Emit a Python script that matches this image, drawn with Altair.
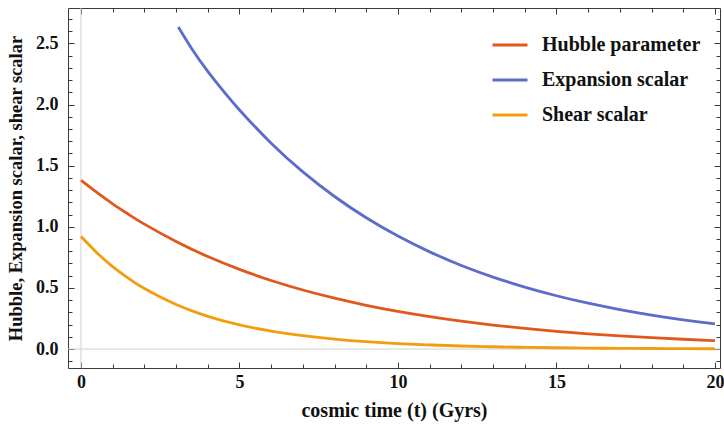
import altair as alt
import pandas as pd

# ---- data ----
t_hubble = [0, 0.5, 1, 1.5, 2, 3, 4, 5, 6, 7, 8, 9, 10, 11, 12, 13, 14, 15, 16, 17, 18, 19, 20]
hubble = [1.380, 1.281, 1.188, 1.102, 1.022, 0.880, 0.757, 0.652, 0.561, 0.483, 0.416, 0.358,
          0.308, 0.265, 0.228, 0.196, 0.169, 0.145, 0.125, 0.108, 0.093, 0.080, 0.069]

t_expansion = [3.07, 3.5, 4, 4.5, 5, 6, 7, 8, 9, 10, 11, 12, 13, 14, 15, 16, 17, 18, 19, 20]
expansion = [2.635, 2.455, 2.271, 2.107, 1.956, 1.684, 1.450, 1.248, 1.074, 0.924, 0.795,
             0.684, 0.589, 0.507, 0.436, 0.375, 0.323, 0.278, 0.239, 0.206]

t_shear = [0, 0.5, 1, 1.5, 2, 3, 4, 5, 6, 7, 8, 9, 10, 11, 12, 13, 14, 15, 16, 17, 18, 19, 20]
shear = [0.920, 0.788, 0.675, 0.578, 0.495, 0.364, 0.268, 0.198, 0.147, 0.109, 0.081, 0.060,
         0.045, 0.034, 0.025, 0.019, 0.014, 0.0105, 0.0079, 0.0059, 0.0044, 0.0033, 0.0025]

series_names = ["Hubble parameter", "Expansion scalar", "Shear scalar"]
series_colors = ["#E1581C", "#5D6BCA", "#F29D0E"]

x_major = [0, 5, 10, 15, 20]
x_minor = list(range(0, 21))
y_major = [0.0, 0.5, 1.0, 1.5, 2.0, 2.5]
y_minor = [round(-0.1 + 0.1 * i, 1) for i in range(29)]
zero = [0]

x_domain = [-0.41, 20.16]
y_domain = [-0.155, 2.79]

rows = []
for name, ts, vs in zip(series_names, [t_hubble, t_expansion, t_shear], [hubble, expansion, shear]):
    for t, v in zip(ts, vs):
        rows.append({"t": t, "v": v, "series": name})
df = pd.DataFrame(rows)
zdf = pd.DataFrame({"z": zero})

FONT = "Liberation Serif"
FRAME = "#3a3a3a"
FS = 18

xs = alt.Scale(domain=x_domain, nice=False, zero=False)
ys = alt.Scale(domain=y_domain, nice=False, zero=False)


def tick_axis(orient, values, size):
    return alt.Axis(orient=orient, values=values, tickSize=size, offset=-size,
                    labels=False, domain=False, grid=False,
                    title=None, tickColor=FRAME, tickWidth=1)


# zero lines
vzero = alt.Chart(zdf).mark_rule(color="#d0d0d0", strokeWidth=1).encode(
    x=alt.X("z:Q", scale=xs, axis=None))
hzero = alt.Chart(zdf).mark_rule(color="#d0d0d0", strokeWidth=1).encode(
    y=alt.Y("z:Q", scale=ys, axis=None))

main = alt.Chart(df).mark_line(strokeWidth=2.8, interpolate="natural").encode(
    x=alt.X("t:Q", scale=xs, axis=alt.Axis(
        values=x_major, format="d", tickSize=0, domain=True, domainColor=FRAME, grid=False,
        labelFont=FONT, labelFontWeight="bold", labelFontSize=FS, labelColor="#111",
        labelPadding=5, title="cosmic time (t) (Gyrs)", titleFont=FONT,
        titleFontWeight="bold", titleFontSize=20, titleColor="#111", titlePadding=9)),
    y=alt.Y("v:Q", scale=ys, axis=alt.Axis(
        values=y_major, format=".1f", tickSize=0, domain=True, domainColor=FRAME, grid=False,
        labelFont=FONT, labelFontWeight="bold", labelFontSize=FS, labelColor="#111",
        labelPadding=10, title="Hubble, Expansion scalar, shear scalar", titleFont=FONT,
        titleFontWeight="bold", titleFontSize=18.5, titleColor="#111", titlePadding=10)),
    color=alt.Color("series:N", scale=alt.Scale(domain=series_names, range=series_colors),
                    legend=alt.Legend(orient="none", legendX=423, legendY=18, title=None,
                                      symbolType="stroke", symbolSize=1225,
                                      symbolStrokeWidth=3, labelFont=FONT,
                                      labelFontWeight="bold", labelFontSize=20,
                                      labelColor="#111", labelOffset=13, rowPadding=6,
                                      padding=0)),
    detail="series:N",
)


def ticks_layer(xaxis, yaxis):
    return alt.Chart(df).mark_point(opacity=0).encode(
        x=alt.X("t:Q", scale=xs, axis=xaxis),
        y=alt.Y("v:Q", scale=ys, axis=yaxis))


t1 = ticks_layer(tick_axis("bottom", x_major, 6), tick_axis("left", y_major, 6))
t2 = ticks_layer(tick_axis("bottom", x_minor, 4), tick_axis("left", y_minor, 4))
t3 = ticks_layer(tick_axis("top", x_major, 6), tick_axis("right", y_major, 6))
t4 = ticks_layer(tick_axis("top", x_minor, 4), tick_axis("right", y_minor, 4))

# frame top/right lines
top_frame = ticks_layer(alt.Axis(orient="top", labels=False, ticks=False, domain=True,
                                 domainColor=FRAME, grid=False, title=None),
                        alt.Axis(orient="right", labels=False, ticks=False, domain=True,
                                 domainColor=FRAME, grid=False, title=None))

chart = alt.layer(vzero, hzero, t1, t2, t3, t4, top_frame, main).resolve_axis(
    x="independent", y="independent"
).properties(
    width=652, height=360,
    padding={"left": 68, "top": 8, "right": 4, "bottom": 57},
    autosize=alt.AutoSizeParams(type="none"),
).configure_view(stroke=None).configure(background="white")

chart.save("out.html", embed_options={"renderer": "svg", "actions": False})
